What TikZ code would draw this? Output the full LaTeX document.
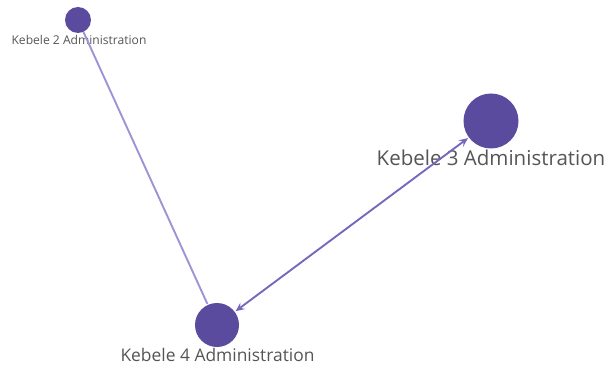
\documentclass[tikz,border=0pt]{standalone}
\usepackage{fontspec}
\setmainfont{Open Sans}
\usetikzlibrary{arrows.meta}
\definecolor{nodefill}{HTML}{5B4B9E}
\definecolor{edgeA}{HTML}{A093D5}
\definecolor{edgeB}{HTML}{7767BD}
\definecolor{labelc}{HTML}{555555}
\begin{document}
\begin{tikzpicture}[x=1pt,y=-1pt,
  vert/.style={circle,fill=nodefill,draw=none,inner sep=0pt},
  lab/.style={text=labelc,inner sep=0pt,anchor=center},
  edge/.style={line width=1.9pt}]
\useasboundingbox (0,0) rectangle (604,366);
\node[vert,minimum size=26pt] (k2) at (78,20) {};
\node[vert,minimum size=55pt] (k3) at (491,121) {};
\node[vert,minimum size=44pt] (k4) at (217,325) {};
\node[lab,font=\fontsize{12.1}{14}\selectfont] (l2) at (79,40) {Kebele 2 Administration};
\node[lab,font=\fontsize{20.5}{23}\selectfont] (l3) at (491,158) {Kebele 3 Administration};
\node[lab,font=\fontsize{17.4}{20}\selectfont] (l4) at (217.5,355) {Kebele 4 Administration};
\draw[edge,edgeA,shorten >=1pt] (k2) -- (k4);
\draw[edge,edgeB,{Stealth[length=9pt,width=8pt,inset=3.5pt]}-{Stealth[length=9pt,width=8pt,inset=3.5pt]},shorten <=1pt,shorten >=1pt] (k4) -- (k3);
\end{tikzpicture}
\end{document}
